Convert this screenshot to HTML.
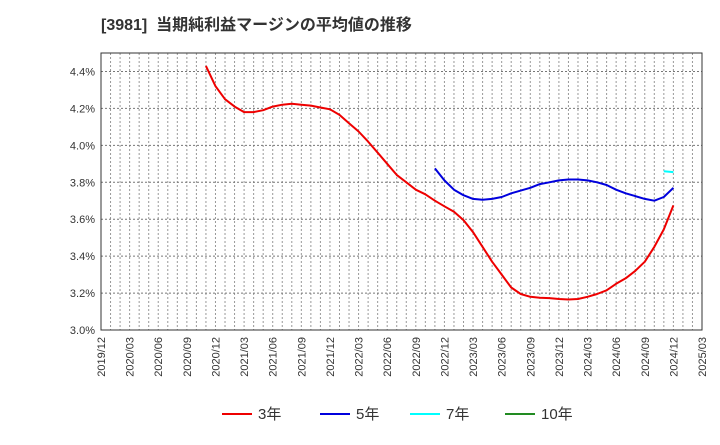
<!DOCTYPE html>
<html><head><meta charset="utf-8"><style>
body{margin:0;background:#fff;width:720px;height:440px;overflow:hidden;font-family:"Liberation Sans","Noto Sans CJK JP",sans-serif}
</style></head><body>
<svg width="720" height="440" xmlns="http://www.w3.org/2000/svg">
<text x="101" y="30" font-size="16" font-weight="bold" fill="#333" xml:space="preserve" font-family="Liberation Sans, Noto Sans CJK JP, sans-serif">[3981]  当期純利益マージンの平均値の推移</text>
<g id="grid"></g><g id="axes"></g><g id="series"></g>
<rect x="101" y="53" width="601" height="277" fill="none" stroke="#333" stroke-width="1"/>
<g id="legend" font-size="15" fill="#333" font-family="Liberation Sans, Noto Sans CJK JP, sans-serif"></g>
</svg>
<script>
const yTicks=[3.0,3.2,3.4,3.6,3.8,4.0,4.2,4.4];
const yTickLabels=["3.0%","3.2%","3.4%","3.6%","3.8%","4.0%","4.2%","4.4%"];
const xTickLabels=["2019/12","2020/03","2020/06","2020/09","2020/12","2021/03","2021/06","2021/09","2021/12","2022/03","2022/06","2022/09","2022/12","2023/03","2023/06","2023/09","2023/12","2024/03","2024/06","2024/09","2024/12","2025/03"];
const s3Start=11;
const s3=[4.43,4.32,4.25,4.21,4.18,4.18,4.19,4.21,4.22,4.225,4.22,4.215,4.205,4.195,4.165,4.12,4.075,4.02,3.96,3.90,3.84,3.80,3.76,3.735,3.70,3.67,3.64,3.595,3.53,3.45,3.37,3.30,3.23,3.195,3.18,3.175,3.173,3.168,3.165,3.168,3.18,3.195,3.215,3.25,3.28,3.32,3.37,3.45,3.545,3.675];
const s5Start=35;
const s5=[3.875,3.81,3.76,3.73,3.71,3.705,3.71,3.72,3.74,3.755,3.77,3.79,3.80,3.81,3.815,3.815,3.81,3.80,3.785,3.76,3.74,3.725,3.71,3.70,3.72,3.77];
const s7Start=59;
const s7=[3.86,3.855];
const s10Start=0;
const s10=[];
const NS="http://www.w3.org/2000/svg";
const X0=101,X1=702,Y0=330,Y1=53,MONTHS=63;
const xs=m=>X0+(X1-X0)*m/MONTHS;
const ys=v=>Y0-(v-3.0)/(4.5-3.0)*(Y0-Y1);
function mk(t,a,p){const e=document.createElementNS(NS,t);for(const k in a)e.setAttribute(k,a[k]);p.appendChild(e);return e;}
const grid=document.getElementById('grid'),axes=document.getElementById('axes'),ser=document.getElementById('series'),leg=document.getElementById('legend');
for(let m=1;m<MONTHS;m++){const l=mk('line',{x1:xs(m),x2:xs(m),y1:Y1,y2:Y0,stroke:'#999','stroke-dasharray':'2,2','stroke-width':1},grid);

}
yTicks.forEach((v,i)=>{if(i>0){const l=mk('line',{x1:X0,x2:X1,y1:ys(v),y2:ys(v),stroke:'#777','stroke-dasharray':'2,2','stroke-width':1},grid);

}
const t=mk('text',{x:95,y:ys(v)+4,'text-anchor':'end','font-size':11,fill:'#333'},axes);t.textContent=yTickLabels[i];

});
xTickLabels.forEach((s,i)=>{const x=xs(i*3);const t=mk('text',{x:0,y:0,'text-anchor':'end','font-size':11,fill:'#333',transform:`translate(${x+4},337) rotate(-90)`},axes);t.textContent=s;

});
function line(data,start,color,name){if(!data.length)return;const pts=data.map((v,i)=>xs(start+i).toFixed(1)+','+ys(v).toFixed(1)).join(' ');
const p=mk('polyline',{points:pts,fill:'none',stroke:color,'stroke-width':2,'stroke-linejoin':'round'},ser);

}
line(s10,s10Start,'#228b22','series-10y');line(s7,s7Start,'#00ffff','series-7y');line(s5,s5Start,'#0000dd','series-5y');line(s3,s3Start,'#ee0000','series-3y');
[['3年','#ee0000',222],['5年','#0000dd',320],['7年','#00ffff',410],['10年','#228b22',505]].forEach(([lab,c,x])=>{
const g=mk('g',{},leg);


mk('line',{x1:x,x2:x+30,y1:414,y2:414,stroke:c,'stroke-width':2},g);
const t=mk('text',{x:x+36,y:419},g);t.textContent=lab;});
</script>
</body></html>
